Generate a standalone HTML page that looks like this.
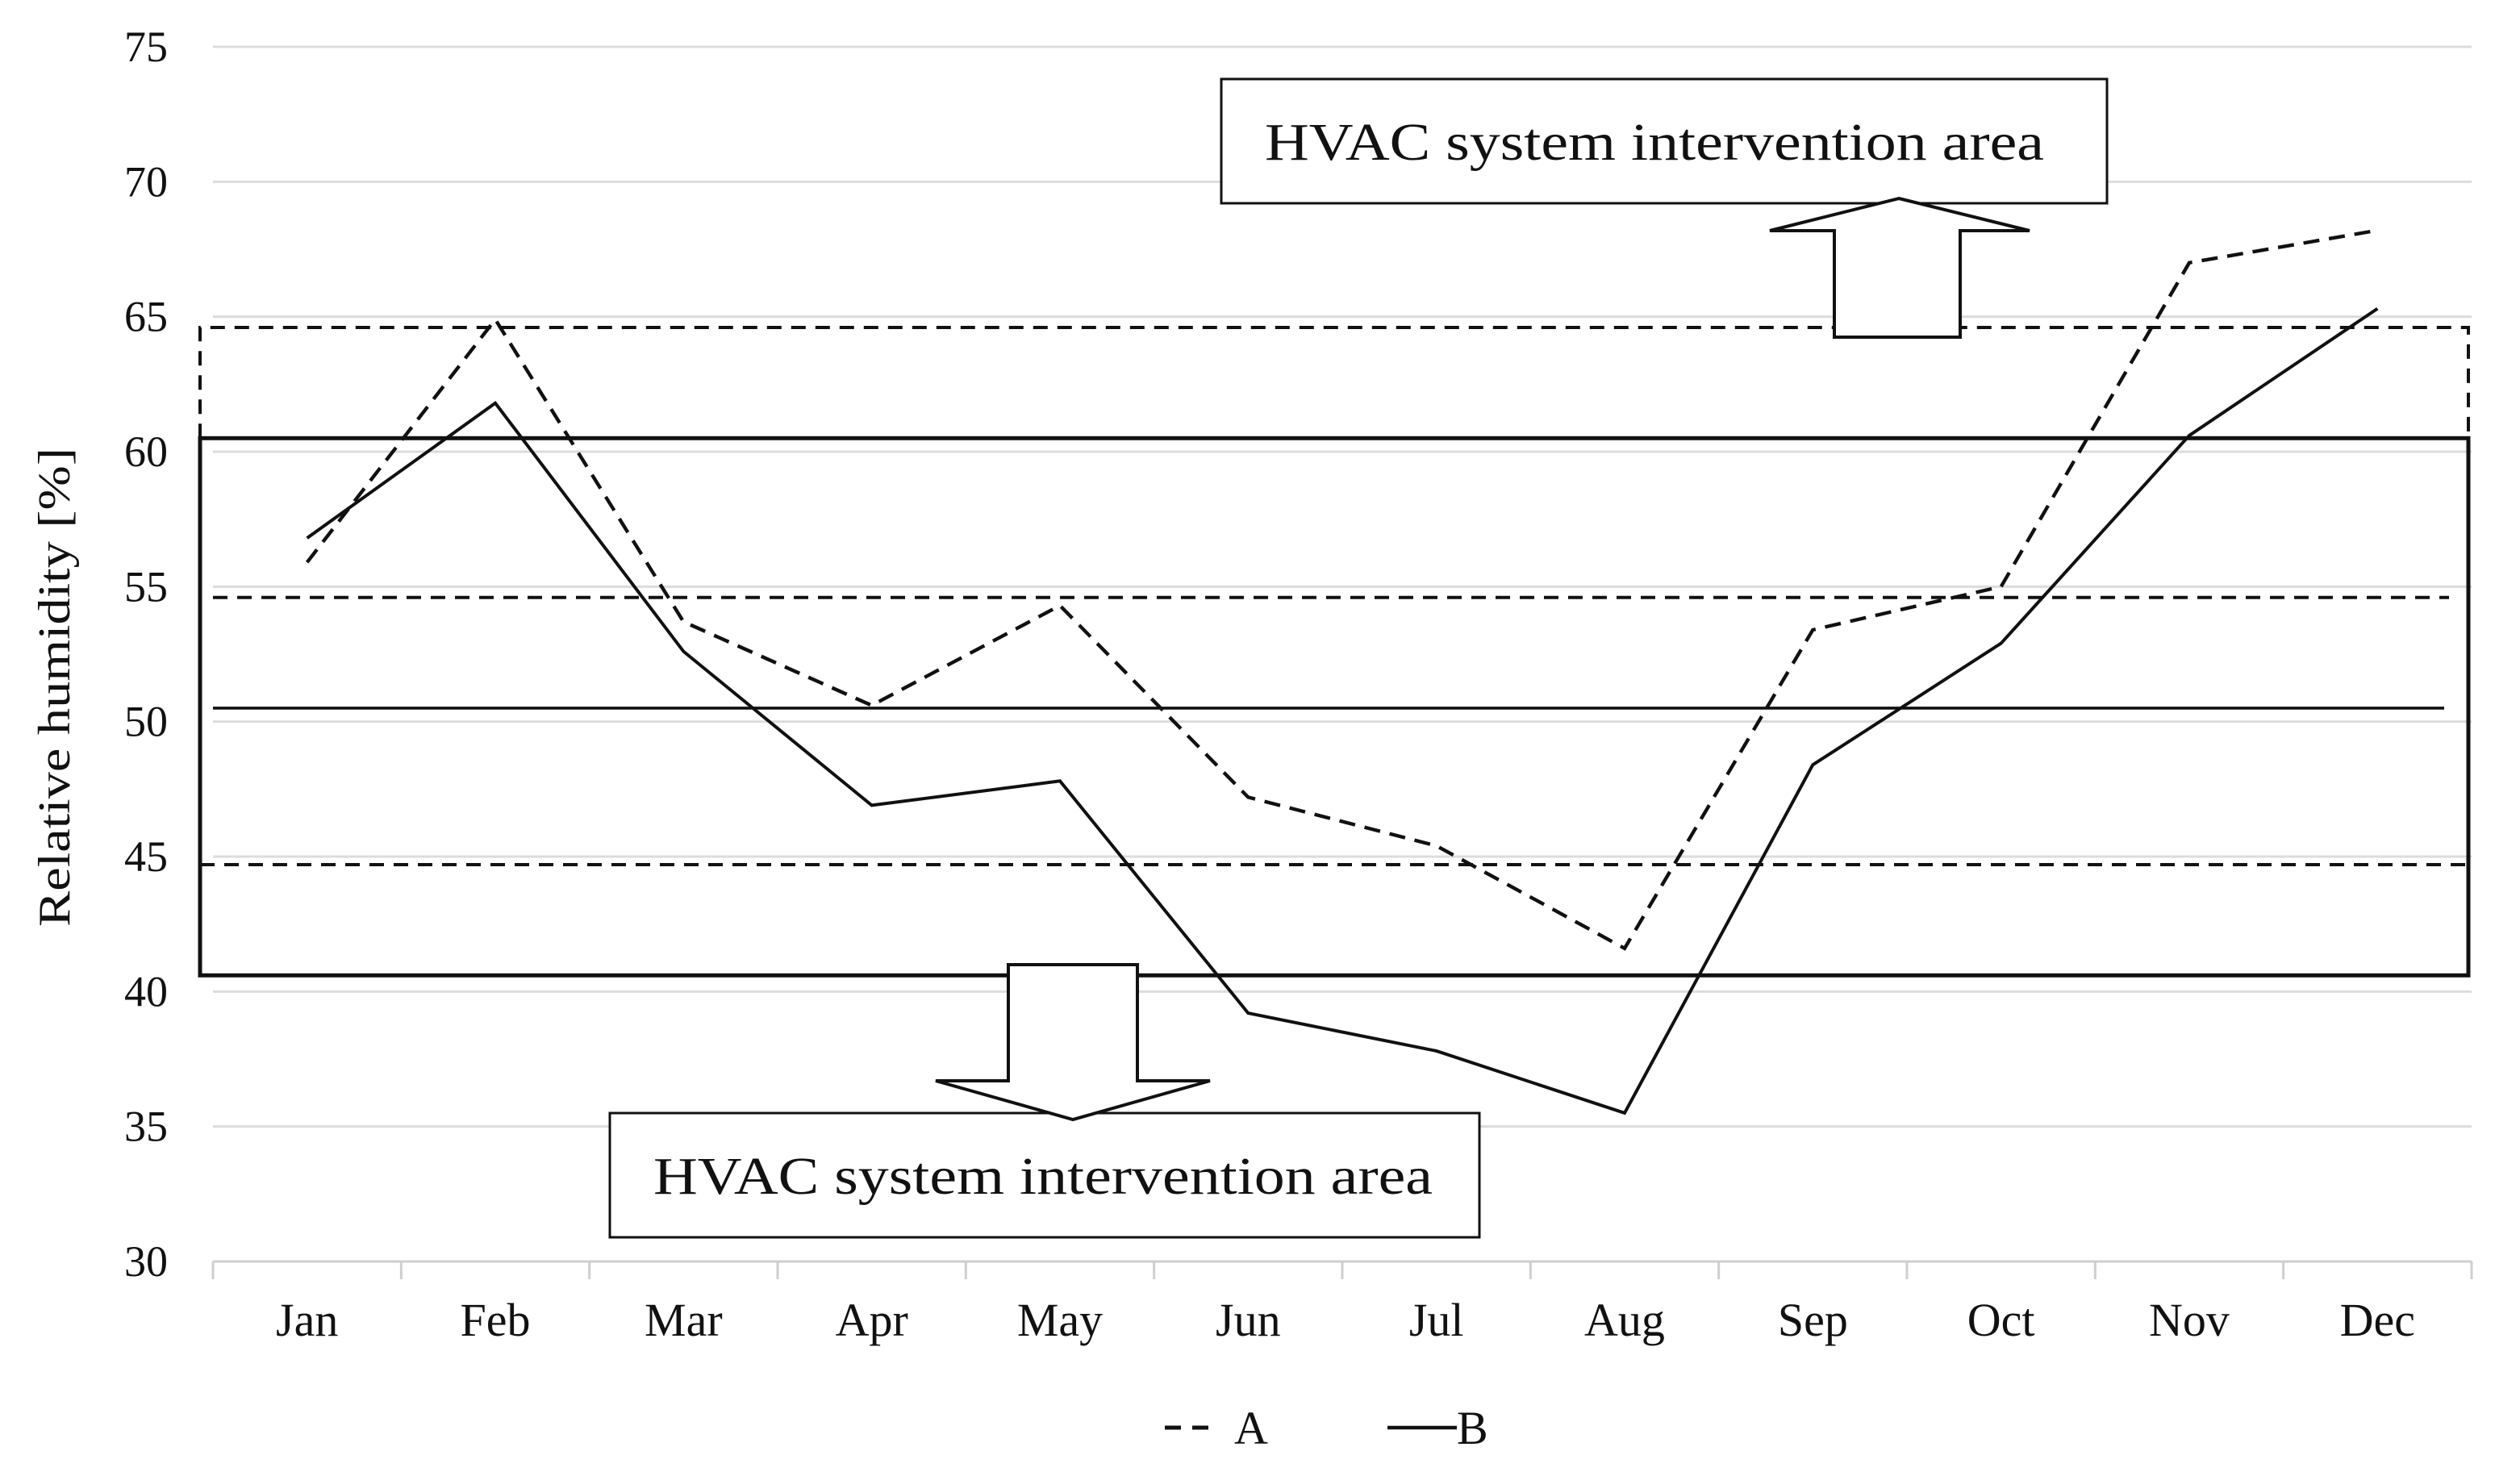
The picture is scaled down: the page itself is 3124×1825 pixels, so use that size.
<!DOCTYPE html>
<html><head><meta charset="utf-8"><style>
html,body{margin:0;padding:0;background:#fff;}
svg{display:block;}
text{font-family:"Liberation Serif",serif;fill:#111;}
</style></head><body>
<svg id="chart" width="3124" height="1825" viewBox="0 0 1562 912.5" xmlns="http://www.w3.org/2000/svg">
<g id="grid"></g>
<g id="yticks"></g>
<g id="xaxis"></g>
<g id="bands"></g>
<g id="series"></g>
<g id="annot">
  <rect x="757" y="49" width="549" height="77" fill="#fff" stroke="#111" stroke-width="1.5"/>
  <text x="784" y="99" font-size="33" textLength="483" lengthAdjust="spacingAndGlyphs">HVAC system intervention area</text>
  <polygon points="1177,123 1258,143 1215,143 1215,209 1137,209 1137,143 1097,143" fill="#fff" stroke="#111" stroke-width="2"/>
  <rect x="378" y="690" width="539" height="77" fill="#fff" stroke="#111" stroke-width="1.5"/>
  <text x="405" y="740" font-size="33" textLength="483" lengthAdjust="spacingAndGlyphs">HVAC system intervention area</text>
  <polygon points="625,598 705,598 705,670 750,670 665,694 580,670 625,670" fill="#fff" stroke="#111" stroke-width="2"/>
</g>
<text transform="translate(43,426) rotate(-90)" font-size="28" text-anchor="middle" textLength="297" lengthAdjust="spacingAndGlyphs">Relative humidity [%]</text>
<g>
  <g>
    <line x1="722" y1="885" x2="756" y2="885" stroke="#111" stroke-width="2.5" stroke-dasharray="10,7"/>
    <text x="765" y="895" font-size="29">A</text>
  </g>
  <g>
    <line x1="860" y1="885" x2="903" y2="885" stroke="#111" stroke-width="2.2"/>
    <text x="903" y="895" font-size="29">B</text>
  </g>
</g>
</svg>
<script>
const months = ["Jan","Feb","Mar","Apr","May","Jun","Jul","Aug","Sep","Oct","Nov","Dec"];
const seriesA = [55.9,64.9,53.7,50.6,54.3,47.2,45.4,41.6,53.4,55.0,67.0,68.2];
const seriesB = [56.8,61.8,52.6,46.9,47.8,39.2,37.8,35.5,48.4,52.9,60.6,65.3];
const yTicks = [30,35,40,45,50,55,60,65,70,75];
const limitsA = [44.7,54.6,64.6];
const limitsB = [40.6,50.5,60.5];

const NS="http://www.w3.org/2000/svg";
const X0=132,X1=1532,Y30=782,Y75=29;
const yScale=v=>Y30-(v-30)*(Y30-Y75)/45;
const band=(X1-X0)/months.length;
const xScale=i=>X0+band*(i+0.5);
function mk(tag,parent,attrs){const e=document.createElementNS(NS,tag);for(const k in attrs)e.setAttribute(k,attrs[k]);parent.appendChild(e);return e;}

const grid=document.getElementById('grid'),yt=document.getElementById('yticks'),xa=document.getElementById('xaxis');
yTicks.forEach(v=>{
  const l=mk('line',grid,{x1:X0,x2:X1,y1:yScale(v),y2:yScale(v),stroke:v===30?'#cfcfcf':'#dcdcdc','stroke-width':1.5});
  
  
  const t=mk('text',yt,{x:104,y:yScale(v)+9,'font-size':27,'text-anchor':'end'});
  t.textContent=v;
  
  
});
for(let i=0;i<=months.length;i++){
  const x=X0+band*i;
  const l=mk('line',xa,{x1:x,x2:x,y1:Y30,y2:Y30+11,stroke:'#cfcfcf','stroke-width':1.5});
  
  
}
months.forEach((m,i)=>{
  const t=mk('text',xa,{x:xScale(i),y:828,'font-size':29,'text-anchor':'middle'});
  t.textContent=m;
  
  
});

const bands=document.getElementById('bands');
const BL=124,BR=1530;
const bTop=yScale(limitsB[2]),bBot=yScale(limitsB[0]);
const boxB=mk('rect',bands,{x:BL,y:bTop,width:BR-BL,height:bBot-bTop,fill:'none',stroke:'#111','stroke-width':2.5});


const midB=mk('line',bands,{x1:X0,x2:1515,y1:yScale(limitsB[1]),y2:yScale(limitsB[1]),stroke:'#111','stroke-width':1.8});


const aTop=yScale(limitsA[2]);
const topA=mk('path',bands,{d:`M${BL},${bTop} L${BL},${aTop} L${BR},${aTop} L${BR},${bTop}`,fill:'none',stroke:'#111','stroke-width':2,'stroke-dasharray':'9,6'});


const midA=mk('line',bands,{x1:X0,x2:1518,y1:yScale(limitsA[1]),y2:yScale(limitsA[1]),stroke:'#111','stroke-width':2,'stroke-dasharray':'9,6'});


const lowA=mk('line',bands,{x1:BL,x2:BR,y1:yScale(limitsA[0]),y2:yScale(limitsA[0]),stroke:'#111','stroke-width':2,'stroke-dasharray':'9,6'});



const ser=document.getElementById('series');
const pa=mk('polyline',ser,{points:seriesA.map((v,i)=>xScale(i)+','+yScale(v)).join(' '),fill:'none',stroke:'#111','stroke-width':2.2,'stroke-dasharray':'10,6'});


const pb=mk('polyline',ser,{points:seriesB.map((v,i)=>xScale(i)+','+yScale(v)).join(' '),fill:'none',stroke:'#111','stroke-width':2});


</script>
</body></html>
